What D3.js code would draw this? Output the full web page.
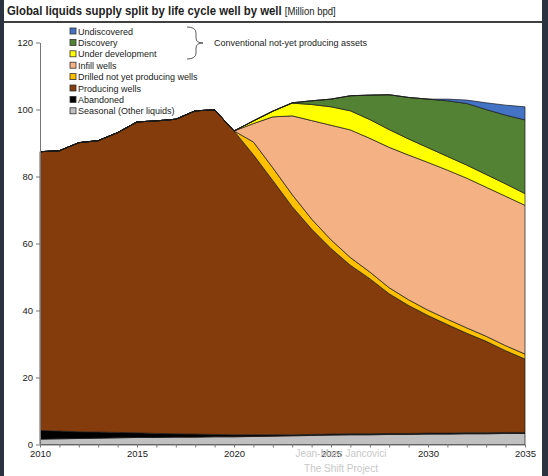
<!DOCTYPE html>
<meta charset="utf-8">
<style>
  body { margin: 0; background: #2b3341; }
  svg { display: block; }
</style>
<!-- Load d3.js -->
<script src="https://d3js.org/d3.v7.min.js"></script>

<svg id="chart" width="548" height="476"></svg>

<script>

// Years on the x axis
const years = [2010, 2011, 2012, 2013, 2014, 2015, 2016, 2017, 2018, 2019,
  2020, 2021, 2022, 2023, 2024, 2025, 2026, 2027, 2028, 2029,
  2030, 2031, 2032, 2033, 2034, 2035];

// Layers, bottom to top (Million bpd)
const seasonal = [1.6, 1.7, 1.8, 1.9, 2.0, 2.1, 2.1, 2.2, 2.2, 2.3,
  2.3, 2.4, 2.5, 2.6, 2.7, 2.8, 2.9, 2.9, 3.0, 3.0,
  3.1, 3.1, 3.2, 3.2, 3.3, 3.3];
const abandoned = [2.6, 2.3, 2.0, 1.8, 1.6, 1.4, 1.2, 1.0, 0.9, 0.7,
  0.6, 0.5, 0.4, 0.3, 0.3, 0.3, 0.3, 0.3, 0.3, 0.3,
  0.3, 0.3, 0.3, 0.3, 0.3, 0.3];
const producing = [83.2, 83.7, 86.3, 87.0, 89.5, 92.8, 93.3, 93.9, 96.5, 96.9,
  90.7, 83.6, 75.9, 68.1, 61.3, 55.4, 50.3, 46.3, 41.7, 38.2,
  35.1, 32.4, 29.7, 27.3, 24.4, 21.9];
const drilled = [0, 0, 0, 0, 0, 0, 0, 0, 0, 0,
  0, 3.8, 3.8, 3.6, 3.0, 2.6, 2.3, 2.0, 1.8, 1.7,
  1.6, 1.6, 1.6, 1.5, 1.5, 1.5];
const infill = [0, 0, 0, 0, 0, 0, 0, 0, 0, 0,
  0, 5.5, 15.2, 23.5, 29.4, 34.2, 38.1, 39.9, 41.9, 43.2,
  44.1, 44.5, 44.7, 44.5, 44.6, 44.4];
const underDev = [0, 0, 0, 0, 0, 0, 0, 0, 0, 0,
  0, 0.8, 1.7, 3.8, 4.8, 5.5, 5.7, 5.6, 5.3, 4.8,
  4.4, 4.1, 3.9, 3.8, 3.7, 3.5];
const discovery = [0, 0, 0, 0, 0, 0, 0, 0, 0, 0,
  0, 0, 0, 0.1, 1.1, 2.3, 4.5, 7.3, 10.4, 12.4,
  14.5, 16.6, 18.4, 19.4, 20.5, 22.0];
const undiscovered = [0, 0, 0, 0, 0, 0, 0, 0, 0, 0,
  0, 0, 0, 0, 0, 0, 0, 0, 0, 0,
  0, 0.5, 1.0, 2.0, 3.0, 3.9];

const layerKeys = ["seasonal", "abandoned", "producing", "drilled", "infill", "underDev", "discovery", "undiscovered"];
const layerLabels = ["Seasonal (Other liquids)", "Abandoned", "Producing wells", "Drilled not yet producing wells",
  "Infill wells", "Under development", "Discovery", "Undiscovered"];
const layerColors = ["#c0c0c0", "#000000", "#843c0c", "#ffc000", "#f4b183", "#ffff00", "#548235", "#4472c4"];

const yTicks = [0, 20, 40, 60, 80, 100, 120];
const xLabels = [2010, 2015, 2020, 2025, 2030, 2035];

// Table for the stack
const series = { seasonal, abandoned, producing, drilled, infill, underDev, discovery, undiscovered };
const table = years.map((yr, i) => {
  const row = { year: yr };
  layerKeys.forEach(k => row[k] = series[k][i]);
  return row;
});

const svg = d3.select("#chart");
const font = "'Liberation Sans', Arial, sans-serif";

// white panel
svg.append("rect")
  .attr("x", 4).attr("y", 0)
  .attr("width", 538).attr("height", 476)
  .attr("fill", "#fff");

// title (the original type is a bit condensed)
const title = svg.append("text")
  .attr("x", 7).attr("y", 15)
  .attr("transform", "translate(7,0) scale(0.91,1) translate(-7,0)")
  .style("font-family", font)
  .style("font-size", "12.5px")
  .style("font-weight", "bold")
  .attr("fill", "#222");
title.append("tspan").text("Global liquids supply split by life cycle well by well ");
title.append("tspan").style("font-weight", "normal").style("font-size", "10.5px").text("[Million bpd]");

svg.append("line")
  .attr("x1", 4).attr("x2", 542)
  .attr("y1", 22).attr("y2", 22)
  .attr("stroke", "#000").attr("stroke-width", 1.5);

// scales
const x = d3.scaleLinear().domain([2010, 2035]).range([40, 525]);
const y = d3.scaleLinear().domain([0, 120]).range([444.5, 42.5]);

const stack = d3.stack().keys(layerKeys);
const stacked = stack(table);

const area = d3.area()
  .x(d => x(d.data.year))
  .y0(d => y(d[0]))
  .y1(d => y(d[1]));

svg.append("g")
  .selectAll("path")
  .data(stacked)
  .join("path")
    .attr("d", area)
    .attr("fill", (d, i) => layerColors[i])
    .attr("stroke", "#1a1a1a")
    .attr("stroke-width", 0.7)
    .attr("stroke-linejoin", "round");

// axes
const yAxis = svg.append("g")
  .attr("transform", "translate(40,0)")
  .call(d3.axisLeft(y).tickValues(yTicks).tickSizeInner(4).tickSizeOuter(0).tickPadding(3));

const xAxis = svg.append("g")
  .attr("transform", "translate(0,444.5)")
  .call(d3.axisBottom(x).tickValues(years).tickSizeInner(3).tickSizeOuter(0).tickPadding(3)
    .tickFormat(d => xLabels.includes(d) ? d : ""));

[yAxis, xAxis].forEach(a => {
  a.select(".domain").attr("stroke", "#777");
  a.selectAll(".tick line").attr("stroke", "#777");
  a.selectAll("text")
    .style("font-family", font)
    .style("font-size", "9.5px")
    .attr("fill", "#222");
});

// watermark
svg.append("g")
  .selectAll("text")
  .data(["Jean-Marc Jancovici", "The Shift Project"])
  .join("text")
    .attr("x", 341)
    .attr("y", (d, i) => 457 + i * 15)
    .attr("text-anchor", "middle")
    .style("font-family", font)
    .style("font-size", "10px")
    .attr("fill", "#c8c8c8")
    .text(d => d);

// legend (top to bottom)
const legend = svg.append("g")
  .selectAll("g")
  .data(layerKeys.map((k, i) => i).reverse())
  .join("g")
    .attr("transform", (d, j) => `translate(70,${31.5 + j * 11.4})`);

legend.append("rect")
  .attr("x", 0).attr("y", -3.5)
  .attr("width", 6).attr("height", 6)
  .attr("fill", d => layerColors[d])
  .attr("stroke", "#333").attr("stroke-width", 0.8);

legend.append("text")
  .attr("x", 8).attr("y", 3)
  .style("font-family", font)
  .style("font-size", "9px")
  .attr("fill", "#222")
  .text(d => layerLabels[d]);

// brace for the not-yet producing assets
svg.append("path")
  .attr("d", "M187,27 Q196,27 196,33 L196,38 Q196,43 203,43 Q196,43 196,48 L196,53 Q196,59 187,59")
  .attr("fill", "none")
  .attr("stroke", "#333")
  .attr("stroke-width", 0.8);

svg.append("text")
  .attr("x", 214).attr("y", 46)
  .style("font-family", font)
  .style("font-size", "9px")
  .attr("fill", "#222")
  .text("Conventional not-yet producing assets");

</script>
